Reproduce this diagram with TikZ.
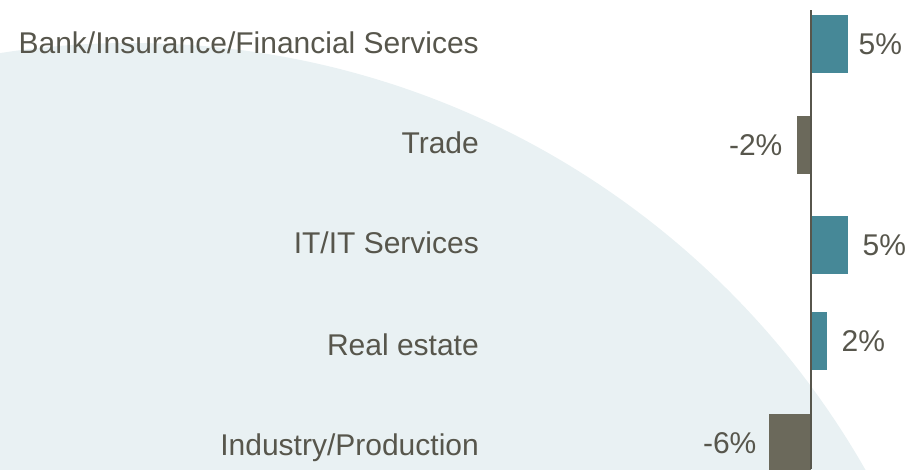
\documentclass[tikz,border=0pt]{standalone}
\usepackage{fontspec}
\setmainfont{Liberation Sans}
\usetikzlibrary{positioning}
\definecolor{txtgray}{HTML}{57564C}
\definecolor{barteal}{HTML}{468897}
\definecolor{bargray}{HTML}{6B695B}
\definecolor{bgblue}{HTML}{E9F1F3}
\tikzset{
  catlabel/.style={anchor=base east,inner sep=0pt,text=txtgray,font=\fontsize{30}{33}\selectfont},
  vallabel/.style={inner sep=0pt,text=txtgray,font=\fontsize{30}{33}\selectfont},
  posbar/.style={fill=barteal,inner sep=0pt,minimum height=58pt,anchor=west},
  negbar/.style={fill=bargray,inner sep=0pt,minimum height=58pt,anchor=east}
}

\begin{document}
\begin{tikzpicture}[x=1pt,y=-1pt]
    \useasboundingbox (0,0) rectangle (908,469);
    \begin{scope}
      \clip (0,0) rectangle (908,469);
      \fill [bgblue] (131,888) circle [radius=845pt];
    \end{scope}

    % categories
    \node [catlabel] (bank) at (479,53) {Bank/Insurance/Financial Services};
    \node [catlabel] (trade) at (479,153) {Trade};
    \node [catlabel] (itserv) at (479,253) {IT/IT Services};
    \node [catlabel] (estate) at (479,355.5) {Real estate};
    \node [catlabel] (industry) at (479,455) {Industry/Production};

    % bars, 7.4pt per percent
    \node [posbar,minimum width=37pt] (bankbar) at (811,44) {};
    \node [negbar,minimum width=14pt] (tradebar) at (811,145) {};
    \node [posbar,minimum width=37pt] (itbar) at (811,245) {};
    \node [posbar,minimum width=16pt] (estatebar) at (811,341) {};
    \node [negbar,minimum width=42pt] (industrybar) at (811,443) {};

    \node [vallabel,right=10pt of bankbar] (bankval) {5\%};
    \node [vallabel,left=14pt of tradebar] (tradeval) {-2\%};
    \node [vallabel,right=14pt of itbar] (itval) {5\%};
    \node [vallabel,right=14pt of estatebar] (estateval) {2\%};
    \node [vallabel,left=12pt of industrybar] (industryval) {-6\%};

    \coordinate (axtop) at (811,10);
    \coordinate (axbot) at (811,469);
    \draw [txtgray,line width=1.2pt] (axtop) -- (axbot);
\end{tikzpicture}
\end{document}
